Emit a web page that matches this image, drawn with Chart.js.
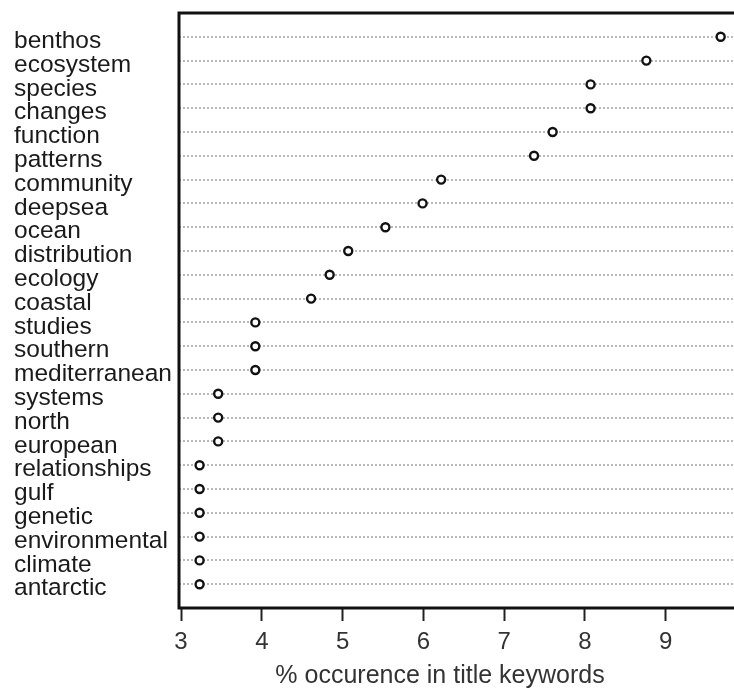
<!DOCTYPE html>
<html>
<head>
<meta charset="utf-8">
<script src="https://cdn.jsdelivr.net/npm/chart.js@4"></script>
<style>
    body { margin: 0; background: #fff; }
    #wrap { width: 734px; height: 690px; }
</style>
</head>
<body>
<div id="wrap"><canvas id="canvas" width="734" height="690"></canvas></div>
<script>
    // keywords, top to bottom
    var keywords = ['benthos', 'ecosystem', 'species', 'changes', 'function', 'patterns',
        'community', 'deepsea', 'ocean', 'distribution', 'ecology', 'coastal', 'studies',
        'southern', 'mediterranean', 'systems', 'north', 'european', 'relationships', 'gulf',
        'genetic', 'environmental', 'climate', 'antarctic'];

    // % occurence in title keywords
    var occurence = [9.68, 8.76, 8.07, 8.07, 7.60, 7.37,
        6.22, 5.99, 5.53, 5.07, 4.84, 4.61, 3.92,
        3.92, 3.92, 3.46, 3.46, 3.46, 3.23, 3.23,
        3.23, 3.23, 3.23, 3.23];

    var xTicks = [3, 4, 5, 6, 7, 8, 9];
    var xTitle = '% occurence in title keywords';

    var points = [];
    for (var i = 0; i < keywords.length; i++) {
        points.push({ x: occurence[i], y: i });
    }

    // box round the panel (left, top, bottom - the right side is off the page)
    // plus the x title, which sits left of the panel centre
    var frame = {
        id: 'frame',
        afterDatasetsDraw: function (chart) {
            var a = chart.chartArea;
            var ctx = chart.ctx;
            ctx.save();
            ctx.setLineDash([]);
            ctx.strokeStyle = '#111';
            ctx.lineWidth = 3;
            ctx.beginPath();
            ctx.moveTo(a.right + 5, a.top);
            ctx.lineTo(a.left, a.top);
            ctx.lineTo(a.left, a.bottom);
            ctx.lineTo(a.right + 5, a.bottom);
            ctx.stroke();

            ctx.fillStyle = '#333';
            ctx.font = '25px "Liberation Sans"';
            ctx.textAlign = 'center';
            ctx.textBaseline = 'middle';
            ctx.fillText(xTitle, 440, 676);
            ctx.restore();
        }
    };

    var ctx = document.getElementById('canvas').getContext('2d');

    var dotChart = new Chart(ctx, {
        type: 'scatter',
        data: {
            datasets: [
                {
                    data: points,
                    pointRadius: 4,
                    pointBorderWidth: 2.4,
                    pointBorderColor: '#111',
                    pointBackgroundColor: '#fff',
                    clip: false
                }
            ]
        },
        options: {
            responsive: false,
            animation: false,
            layout: { autoPadding: false, padding: { left: 14, top: 13, right: 0, bottom: 0 } },
            plugins: {
                legend: { display: false },
                tooltip: { enabled: false }
            },
            scales: {
                x: {
                    type: 'linear',
                    min: 2.975,
                    max: 9.845,
                    afterBuildTicks: function (scale) {
                        scale.ticks = xTicks.map(function (v) { return { value: v }; });
                    },
                    afterFit: function (scale) {
                        scale.height = 82;
                        scale.paddingLeft = 0;
                        scale.paddingRight = 0;
                    },
                    grid: {
                        drawOnChartArea: false,
                        drawTicks: true,
                        tickLength: 13,
                        tickWidth: 2,
                        tickColor: '#222'
                    },
                    border: { display: false },
                    ticks: {
                        padding: 7,
                        autoSkip: false,
                        maxRotation: 0,
                        color: '#333',
                        font: { family: 'Liberation Sans', size: 24 }
                    }
                },
                y: {
                    type: 'linear',
                    reverse: true,
                    min: -1,
                    max: 24,
                    afterBuildTicks: function (scale) {
                        scale.ticks = keywords.map(function (k, i) { return { value: i }; });
                    },
                    afterFit: function (scale) {
                        scale.width = 165;
                        scale.paddingTop = 0;
                        scale.paddingBottom = 0;
                    },
                    grid: {
                        drawTicks: false,
                        color: '#b8b8b8',
                        lineWidth: 2
                    },
                    border: { display: false, dash: [2, 2] },
                    ticks: {
                        autoSkip: false,
                        crossAlign: 'far',
                        color: '#1a1a1a',
                        font: { family: 'Liberation Sans', size: 24.5, lineHeight: '9px' },
                        // empty first line drops the name a little below its row line
                        callback: function (value) { return ['', keywords[value]]; }
                    }
                }
            }
        },
        plugins: [frame]
    });
</script>
</body>
</html>
